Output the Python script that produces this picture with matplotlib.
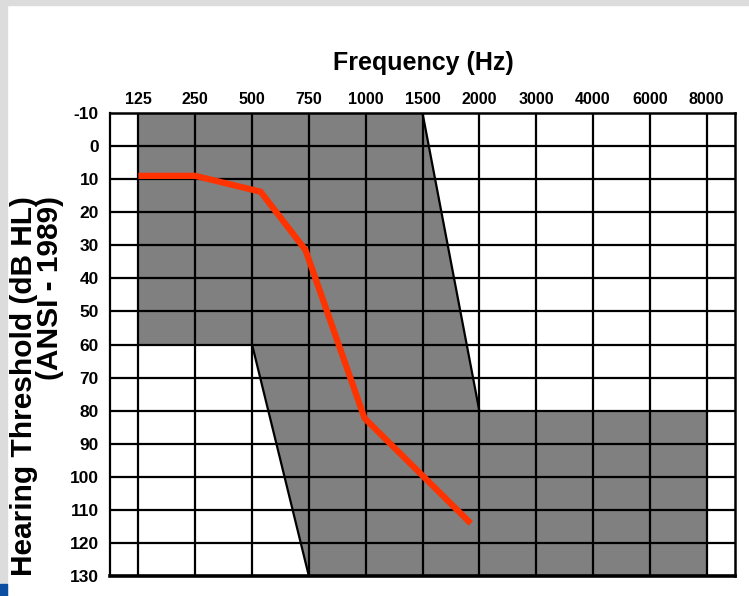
import matplotlib
matplotlib.use("Agg")
import matplotlib.pyplot as plt
from matplotlib.patches import Polygon, Rectangle

plt.rcParams['font.family'] = ['Liberation Sans', 'DejaVu Sans']

# Audiogram columns (frequency labels) and hearing-level rows
freq_labels = ["125", "250", "500", "750", "1000", "1500",
               "2000", "3000", "4000", "6000", "8000"]
db_levels = [-10, 0, 10, 20, 30, 40, 50, 60, 70, 80, 90, 100, 110, 120, 130]

# Shaded region, in column index / dB coordinates
region_col = [0, 5, 6, 10, 10, 3, 2, 0]
region_db = [-10, -10, 80, 80, 130, 130, 60, 60]

# Threshold curve, in column index / dB coordinates
curve_col = [0, 1, 2.15, 2.94, 3.98, 5.85]
curve_db = [9, 9, 13.8, 31.4, 82.3, 114.1]

W, H = 749, 596
fig = plt.figure(figsize=(W / 100, H / 100), dpi=100)
fig.patch.set_facecolor("white")

# Frame strips around the figure
frame = "#dcdcdc"
fig.patches.append(Rectangle((0, 1 - 5 / H), 1, 5 / H, transform=fig.transFigure,
                             color=frame, zorder=0))
fig.patches.append(Rectangle((0, 0), 7 / W, 1, transform=fig.transFigure,
                             color=frame, zorder=0))
fig.patches.append(Rectangle((0, 0), 7 / W, 12 / H, transform=fig.transFigure,
                             color="#0b4ea2", zorder=1))

left, right, top, bottom = 110, 735, 113, 576
ax = fig.add_axes([left / W, 1 - bottom / H, (right - left) / W, (bottom - top) / H])
ax.set_facecolor("white")

n = len(freq_labels)
ax.set_xlim(-0.5, n - 0.5)
ax.set_ylim(db_levels[-1], db_levels[0])

ax.add_patch(Polygon(list(zip(region_col, region_db)), closed=True,
                     facecolor="#808080", edgecolor="none", zorder=1))

# Grid lines
for i in range(n):
    ax.axvline(i, color="black", lw=1.6, zorder=2)
for d in db_levels[1:-1]:
    ax.axhline(d, color="black", lw=1.6, zorder=2)

# Sloped region edges
ax.plot(region_col[1:3], region_db[1:3], color="black", lw=1.6, zorder=2)
ax.plot(region_col[5:7], region_db[5:7], color="black", lw=1.6, zorder=2)

ax.plot(curve_col, curve_db, color="#ff3300", lw=4.5, zorder=3,
        solid_capstyle="butt", solid_joinstyle="miter")

for side, lw in (("top", 1.8), ("left", 1.6), ("right", 1.8), ("bottom", 2.6)):
    ax.spines[side].set_linewidth(lw)
    ax.spines[side].set_color("black")
    ax.spines[side].set_zorder(4)

ax.xaxis.tick_top()
ax.set_xticks(range(n))
ax.set_xticklabels(freq_labels, fontsize=11.5, fontweight="bold")
ax.set_yticks(db_levels)
ax.set_yticklabels([str(d) for d in db_levels], fontsize=12.5, fontweight="bold")
ax.tick_params(axis="x", length=0, pad=4)
ax.tick_params(axis="y", length=0, pad=8)

fig.text(423 / W, 1 - 63 / H, "Frequency (Hz)", ha="center", va="center",
         fontsize=18, fontweight="bold")
fig.text(37 / W, 1 - 386 / H, "Hearing Threshold (dB HL)\n(ANSI - 1989)",
         ha="center", va="center", rotation=90, fontsize=21.5,
         fontweight="bold", linespacing=0.9, multialignment="right")

fig.savefig("out.png", dpi=100)
